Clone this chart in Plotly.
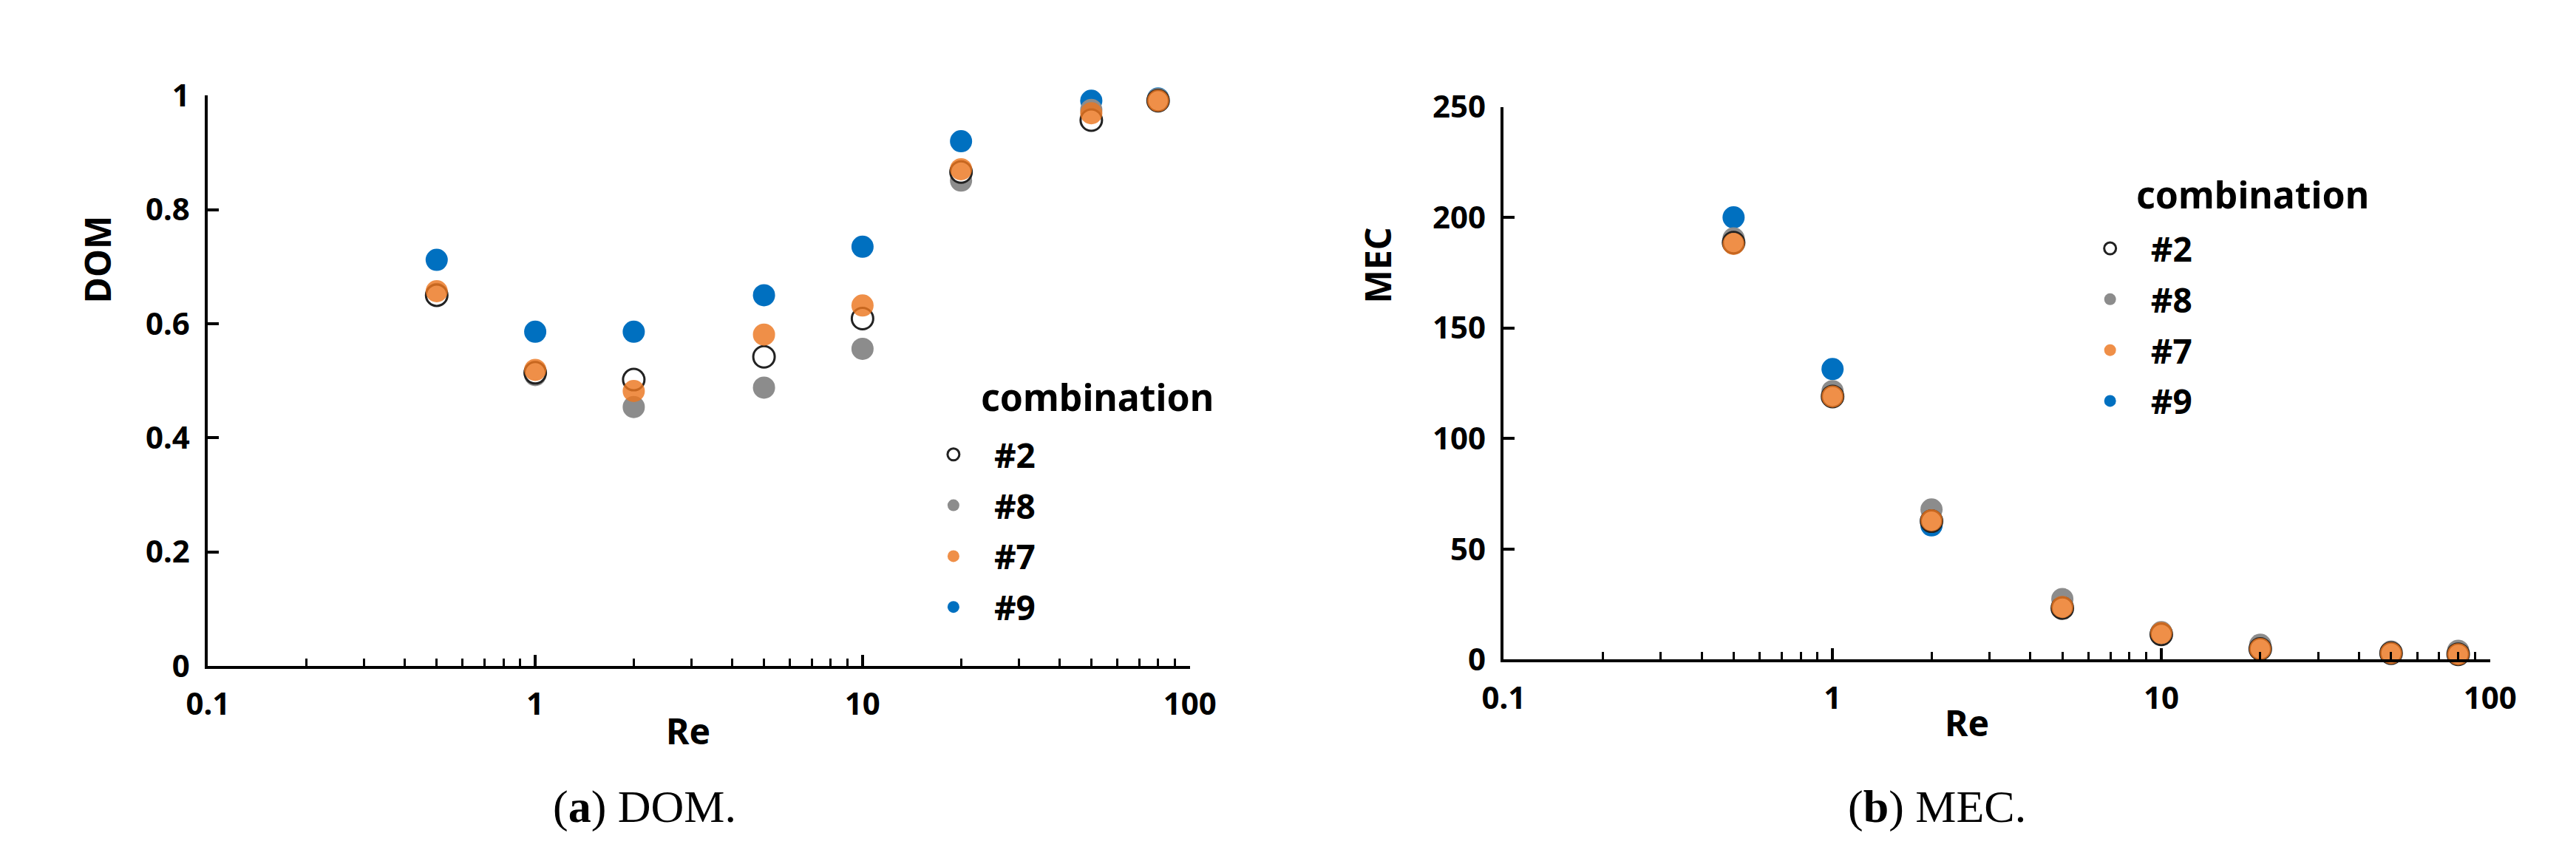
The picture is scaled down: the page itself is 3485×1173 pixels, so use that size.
import plotly.graph_objects as go

# Re values shared by both panels
re = [0.5, 1, 2, 5, 10, 20, 50, 80]

# (a) DOM
dom_2 = [0.650, 0.514, 0.502, 0.542, 0.609, 0.866, 0.957, 0.991]
dom_8 = [0.652, 0.510, 0.454, 0.488, 0.556, 0.851, 0.975, 0.994]
dom_7 = [0.657, 0.519, 0.482, 0.581, 0.632, 0.871, 0.969, 0.991]
dom_9 = [0.712, 0.586, 0.586, 0.650, 0.735, 0.920, 0.991, 0.995]

# (b) MEC
mec_2 = [188.6, 119.0, 62.6, 23.3, 11.4, 4.8, 2.9, 2.4]
mec_8 = [190.5, 121.4, 67.9, 27.4, 12.4, 6.7, 3.6, 4.0]
mec_7 = [188.0, 119.0, 63.0, 23.8, 12.0, 4.8, 2.9, 2.4]
mec_9 = [200.0, 131.4, 60.7, 23.8, 12.0, 5.0, 3.0, 2.5]

W, H = 3485, 1173
FONT = "Noto Sans"

def px(x):
    return x / W

def py(y):
    return 1 - y / H

fig = go.Figure()

# drawing order: #9, #8, #2, #7 (orange on top); legend order: #2, #8, #7, #9
series = [
    ("#9", 4, dict(color="#0070C0", size=30)),
    ("#8", 2, dict(color="#8C8C8C", size=30)),
    ("#2", 1, dict(color="white", size=29, line=dict(color="#222222", width=3))),
    ("#7", 3, dict(color="rgba(236,118,32,0.82)", size=30)),
]
dom = {"#2": dom_2, "#8": dom_8, "#7": dom_7, "#9": dom_9}
mec = {"#2": mec_2, "#8": mec_8, "#7": mec_7, "#9": mec_9}

for name, rank, mk in series:
    fig.add_trace(go.Scatter(x=re, y=dom[name], mode="markers", name=name, marker=mk,
                             legendrank=rank, legendgroup="a" + name, legend="legend",
                             cliponaxis=False, xaxis="x", yaxis="y"))
for name, rank, mk in series:
    fig.add_trace(go.Scatter(x=re, y=mec[name], mode="markers", name=name, marker=mk,
                             legendrank=rank, legendgroup="b" + name, legend="legend2",
                             cliponaxis=False, xaxis="x2", yaxis="y2"))

tickfont = dict(family=FONT, size=42, color="black", weight="bold")
common = dict(showline=True, linecolor="black", linewidth=4, ticks="inside", ticklen=15,
              tickwidth=4, tickcolor="black", showgrid=False, zeroline=False,
              tickfont=tickfont, ticklabelstandoff=12)
xcommon = dict(common, type="log", range=[-1, 2], dtick=1,
               minor=dict(ticks="inside", ticklen=10, tickwidth=3, tickcolor="black",
                          dtick="D1", showgrid=False))

legend_common = dict(font=dict(family=FONT, size=46, color="black", weight="bold"),
                     itemwidth=100, tracegroupgap=6, bgcolor="rgba(0,0,0,0)",
                     xanchor="left", yanchor="top", traceorder="grouped")

fig.update_layout(
    width=W, height=H,
    margin=dict(l=0, r=0, t=0, b=0),
    paper_bgcolor="white", plot_bgcolor="white",
    font=dict(family=FONT, color="black"),
    xaxis=dict(xcommon, domain=[px(248), px(1602)], anchor="y"),
    yaxis=dict(common, domain=[py(907), py(96)], range=[0, 1], dtick=0.2, anchor="x"),
    xaxis2=dict(xcommon, domain=[px(2035), px(3395)], anchor="y2"),
    yaxis2=dict(common, domain=[py(898), py(112)], range=[0, 250], dtick=50, anchor="x2"),
    legend=dict(legend_common, x=px(1278 - 58), y=py(568)),
    legend2=dict(legend_common, x=px(2873 - 58), y=py(275)),
    showlegend=True,
)

bold = dict(family=FONT, size=48, color="black", weight="bold")
title_font = dict(family=FONT, size=50, color="black", weight="bold")
caption = dict(family="Liberation Serif", size=62, color="black")
notes = [
    dict(text="DOM", x=px(95), y=py(329), textangle=-90, font=bold),
    dict(text="Re", x=px(910), y=py(999), font=bold),
    dict(text="MEC", x=px(1861), y=py(337), textangle=-90, font=bold),
    dict(text="Re", x=px(2674), y=py(987), font=bold),
    dict(text="combination", x=px(1312), y=py(525), xanchor="left", font=title_font),
    dict(text="combination", x=px(2905), y=py(236), xanchor="left", font=title_font),
    dict(text="(<b>a</b>) DOM.", x=px(850), y=py(1107), font=caption),
    dict(text="(<b>b</b>) MEC.", x=px(2632), y=py(1107), font=caption),
]
for a in notes:
    a.setdefault("xanchor", "center")
    fig.add_annotation(xref="paper", yref="paper", yanchor="middle", showarrow=False, **a)

fig.write_html("out.html")
